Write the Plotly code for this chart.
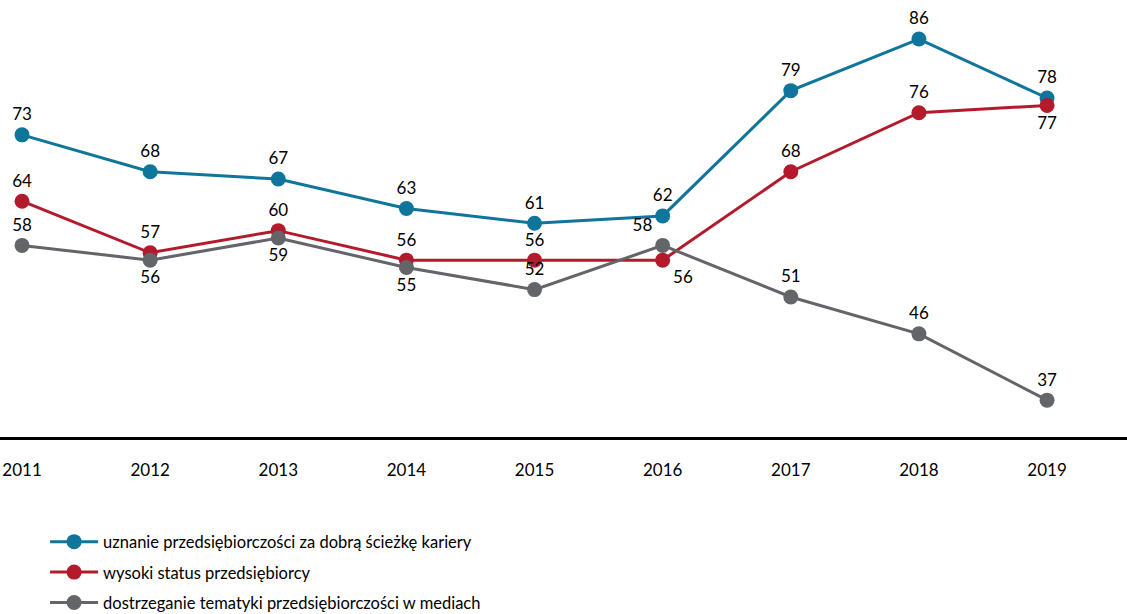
import plotly.graph_objects as go

years = [2011, 2012, 2013, 2014, 2015, 2016, 2017, 2018, 2019]

kariera = [73, 68, 67, 63, 61, 62, 79, 86, 78]
status = [64, 57, 60, 56, 56, 56, 68, 76, 77]
media = [58, 56, 59, 55, 52, 58, 51, 46, 37]

names = [
    "uznanie przedsiębiorczości za dobrą ścieżkę kariery",
    "wysoki status przedsiębiorcy",
    "dostrzeganie tematyki przedsiębiorczości w mediach",
]
colors = ["#10759A", "#B31A2B", "#636569"]

pos_kariera = ["top center"] * 9
pos_status = ["top center"] * 5 + ["bottom right", "top center", "top center", "bottom center"]
pos_media = ["top center", "bottom center", "bottom center", "bottom center",
             "top center", "top left", "top center", "top center", "top center"]

FONT = "Lato"

fig = go.Figure()
for i, (vals, pos) in enumerate([(kariera, pos_kariera), (status, pos_status), (media, pos_media)]):
    fig.add_trace(go.Scatter(
        x=years, y=vals, name=names[i], legendgroup=f"g{i}",
        mode="lines+markers+text",
        text=[str(v) for v in vals], textposition=pos,
        textfont=dict(family=FONT, size=17, color="#000000"),
        line=dict(color=colors[i], width=3),
        marker=dict(color=colors[i], size=15),
        cliponaxis=False,
    ))

fig.update_layout(
    width=1127, height=614,
    margin=dict(l=0, r=0, t=0, b=177, autoexpand=False),
    paper_bgcolor="white", plot_bgcolor="white",
    font=dict(family=FONT, size=17, color="#000000"),
    showlegend=True,
    legend=dict(
        x=0.0400, y=-0.2, xanchor="left", yanchor="top",
        orientation="v", traceorder="grouped", tracegroupgap=6,
        itemwidth=48,
        font=dict(family=FONT, size=16.5, color="#000000"),
        bgcolor="rgba(0,0,0,0)",
    ),
    xaxis=dict(
        range=[2010.828, 2019.624], tickmode="array", tickvals=years,
        ticktext=[str(y) for y in years], showgrid=False, zeroline=False,
        showline=True, linecolor="#000000", linewidth=2.5, ticks="",
        ticklabelstandoff=16,
        tickfont=dict(family=FONT, size=17, color="#000000"),
    ),
    yaxis=dict(range=[32, 91.3], visible=False, showgrid=False, zeroline=False),
)

fig.write_html("out.html")
